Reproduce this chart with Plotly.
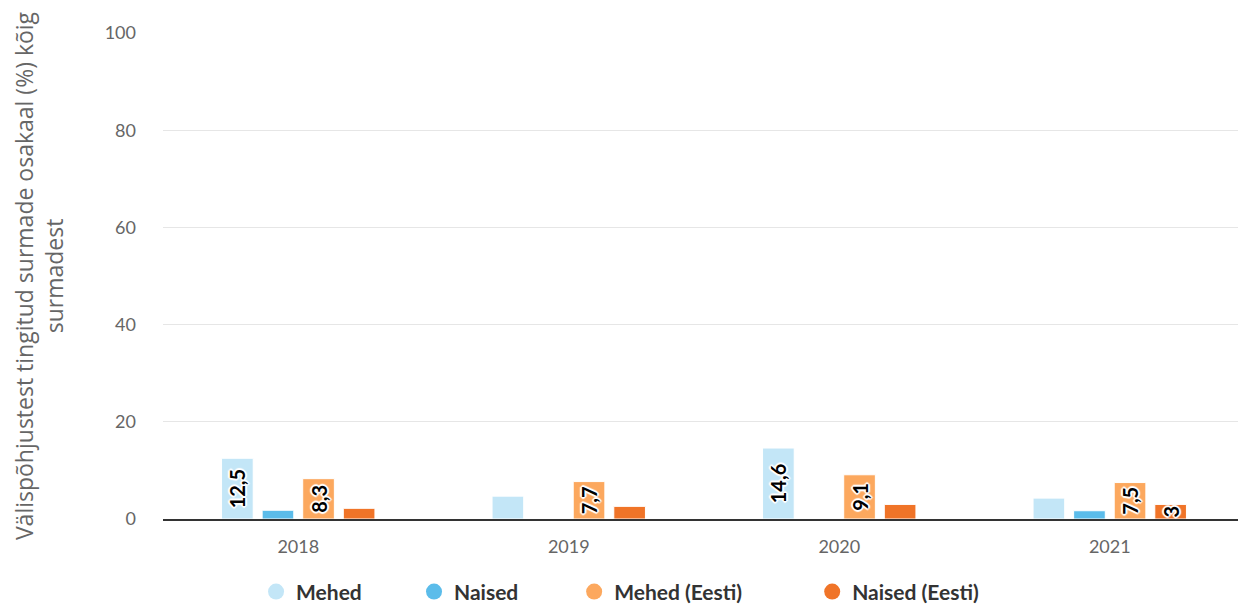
import plotly.graph_objects as go

years = ["2018", "2019", "2020", "2021"]
series_names = ["Mehed", "Naised", "Mehed (Eesti)", "Naised (Eesti)"]
mehed = [12.5, 4.7, 14.6, 4.3]
naised = [1.8, None, None, 1.7]
mehed_eesti = [8.3, 7.7, 9.1, 7.5]
naised_eesti = [2.2, 2.6, 3.0, 3]
# which bars carry a value label in the original
show_label = [
    [True, False, True, False],
    [False, False, False, False],
    [True, True, True, True],
    [False, False, False, True],
]
colors = ["#c3e6f7", "#5bbcea", "#fca85e", "#f07428"]

def fmt(v):
    s = ("%g" % v).replace(".", ",")
    return s

halo = ", ".join("%dpx %dpx 1px white" % (dx, dy) for dx, dy in
                 [(1, 1), (-1, -1), (1, -1), (-1, 1), (2, 0), (-2, 0), (0, 2), (0, -2)])

# one small legend per series so the items can be spaced like the original
legend_ids = ["legend", "legend2", "legend3", "legend4"]
legend_x = [0.086, 0.232, 0.380, 0.600]

fig = go.Figure()
all_vals = [mehed, naised, mehed_eesti, naised_eesti]
for i, (name, vals, col, lab) in enumerate(zip(series_names, all_vals, colors, show_label)):
    txt = [fmt(v) if (v is not None and s) else "" for v, s in zip(vals, lab)]
    fig.add_trace(go.Bar(
        x=years, y=vals, name=name, showlegend=False,
        marker=dict(color=col, line=dict(color="white", width=1)),
        text=txt, textposition="inside", insidetextanchor="middle",
        textangle=-90, constraintext="none", cliponaxis=False,
        textfont=dict(family="Lato", size=20, color="black", weight="bold", shadow=halo),
        hovertemplate="%{x}: %{y}<extra>" + name + "</extra>",
    ))
    # legend entry with round symbol
    fig.add_trace(go.Scatter(
        x=[None], y=[None], mode="markers", name=name, legend=legend_ids[i],
        marker=dict(color=col, size=20, symbol="circle"),
    ))

fig.update_layout(
    width=1238, height=600,
    plot_bgcolor="white", paper_bgcolor="white",
    margin=dict(l=155, r=1, t=25, b=89, autoexpand=False),
    barmode="group", bargap=0.4, bargroupgap=0.22,
    font=dict(family="Lato", color="#666666"),
)
for lid, lx in zip(legend_ids, legend_x):
    fig.update_layout({lid: dict(
        orientation="h", x=lx, xanchor="left", y=-0.15, yanchor="middle",
        font=dict(size=21, color="#333333", weight="bold"),
        itemsizing="trace", bgcolor="rgba(0,0,0,0)",
    )})
fig.update_yaxes(
    range=[0, 100], dtick=20, gridcolor="#e6e6e6", zeroline=False,
    automargin=False, ticklabelstandoff=26,
    tickfont=dict(size=18, color="#666666"),
    title=dict(text="Välispõhjustest tingitud surmade osakaal (%) kõig<br>surmadest",
               font=dict(family="Open Sans", size=23, color="#666666"), standoff=36),
)
fig.update_xaxes(
    showline=True, linecolor="#333333", linewidth=2, automargin=False,
    ticklabelstandoff=10,
    tickfont=dict(size=18, color="#666666"), ticks="",
)

fig.write_html("out.html")
